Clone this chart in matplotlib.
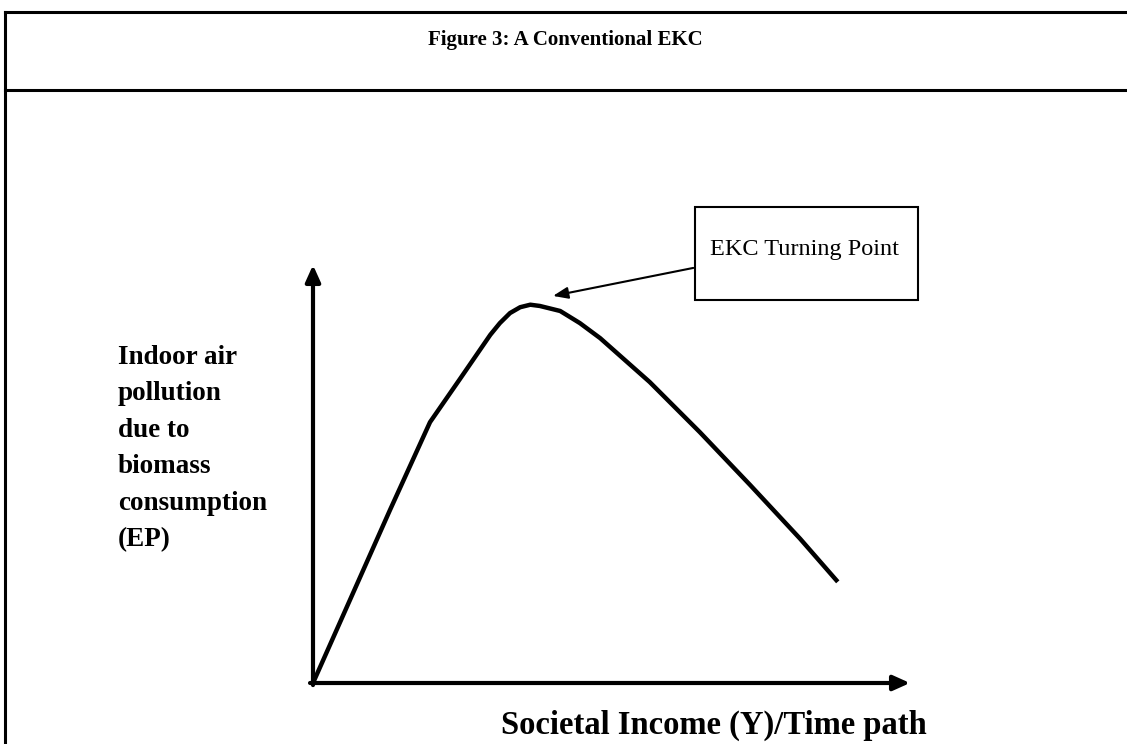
import matplotlib.pyplot as plt
import numpy as np

# curve (income units, pollution units; axes run 0..10)
income = [0, 0.62, 1.29, 1.96, 2.46, 2.97, 3.13, 3.30, 3.47, 3.64, 3.80, 4.14, 4.47, 4.81, 5.64, 6.48, 7.32, 8.16, 8.79]
pollution = [0, 1.99, 4.14, 6.24, 7.27, 8.33, 8.61, 8.85, 8.99, 9.05, 9.02, 8.90, 8.61, 8.25, 7.20, 6.00, 4.74, 3.45, 2.42]

title = "Figure 3: A Conventional EKC"
ylabel_lines = ["Indoor air", "pollution", "due to", "biomass", "consumption", "(EP)"]
xlabel = "Societal Income (Y)/Time path"
note = "EKC Turning Point"

W, H = 1127, 744
fig = plt.figure(figsize=(W / 100, H / 100), dpi=100)
plt.rcParams['font.family'] = ['Liberation Serif', 'DejaVu Serif']

# page frame in pixel coordinates
page = fig.add_axes([0, 0, 1, 1])
page.set_xlim(0, W)
page.set_ylim(H, 0)
page.axis('off')
page.plot([5, W], [12, 12], color='black', lw=2.2)
page.plot([5, W], [90, 90], color='black', lw=2.2)
page.plot([5, 5], [12, H], color='black', lw=2.2)
page.text(565, 40, title, fontsize=15, fontweight='bold', ha='center', va='center')

# y label
for i, line in enumerate(ylabel_lines):
    page.text(118, 357 + i * 36.6, line, fontsize=19.5, fontweight='bold', ha='left', va='center')
page.text(714, 725, xlabel, fontsize=23.5, fontweight='bold', ha='center', va='center')

# turning point box
page.add_patch(plt.Rectangle((695, 207), 223, 93, fill=False, ec='black', lw=1.5))
page.text(710, 250, note, fontsize=17.5, ha='left', va='center')

# chart axes: origin at (313, 683), x to 910, y to 265
x0, y0, x1, y1 = 313, 683, 910, 265
ax = fig.add_axes([x0 / W, (H - y0) / H, (x1 - x0) / W, (y0 - y1) / H])
ax.set_xlim(0, 10)
ax.set_ylim(0, 10)
ax.axis('off')
ax.plot(income, pollution, color='black', lw=3.2, solid_capstyle='butt', solid_joinstyle='round')

arrow = dict(arrowstyle='-|>,head_length=1.0,head_width=0.45', color='black', lw=3, shrinkA=0, shrinkB=0)
ax.annotate('', xy=(0, 10), xytext=(0, -0.05), arrowprops=arrow, annotation_clip=False)
ax.annotate('', xy=(10, 0), xytext=(-0.05, 0), arrowprops=arrow, annotation_clip=False)

# pointer from box to just above-right of the peak
i_peak = int(np.argmax(pollution))
ax.annotate('', xy=(income[i_peak] + 0.38, pollution[i_peak] + 0.21), xytext=(6.37, 9.93),
            xycoords='data', textcoords='data',
            arrowprops=dict(arrowstyle='-|>,head_length=0.9,head_width=0.35', color='black', lw=1.5,
                            shrinkA=0, shrinkB=0), annotation_clip=False)

fig.savefig('out.png', dpi=100)
